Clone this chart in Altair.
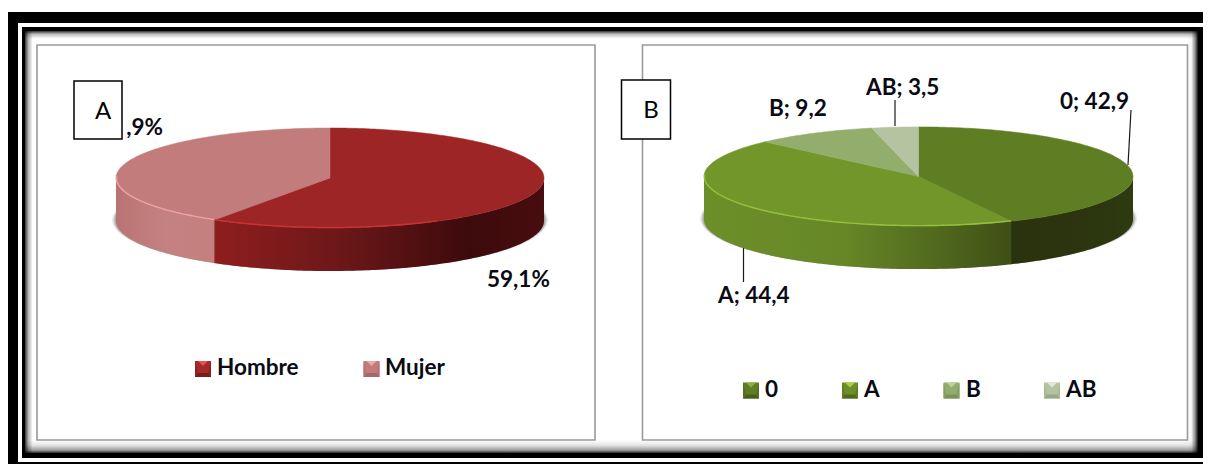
import math
import altair as alt
import pandas as pd

# ---- data ----
sex_names = ["Hombre", "Mujer"]
sex_values = [59.1, 40.9]
sex_labels = ["59,1%", "40,9%"]
blood_names = ["0", "A", "B", "AB"]
blood_values = [42.9, 44.4, 9.2, 3.5]
blood_labels = ["0; 42,9", "A; 44,4", "B; 9,2", "AB; 3,5"]

sex_top = ["#9e2525", "#c27c7c"]
blood_top = ["#5f7e24", "#73962b", "#92ad6c", "#b4c4a0"]

W, H = 1195, 456
X0, Y0 = 8, 8
sx = alt.Scale(domain=[X0, X0 + W], nice=False, zero=False)
sy = alt.Scale(domain=[Y0 + H, Y0], nice=False, zero=False)


def grad(stops, horizontal=True):
    return alt.LinearGradient(
        gradient="linear",
        stops=[alt.GradientStop(color=c, offset=o) for o, c in stops],
        x1=0, x2=1 if horizontal else 0, y1=0, y2=0 if horizontal else 1,
    )


def rect(x0, y0, x1, y1, fill="#ffffff", stroke=None, sw=1.0):
    kw = dict(fill=fill, strokeWidth=sw, opacity=1)
    if stroke:
        kw["stroke"] = stroke
    return alt.Chart(pd.DataFrame({"a": [x0], "b": [y0], "c": [x1], "d": [y1]})).mark_rect(**kw).encode(
        x=alt.X("a:Q", scale=sx, axis=None),
        x2="c:Q",
        y=alt.Y("b:Q", scale=sy, axis=None),
        y2="d:Q",
    )


def poly(points, fill, stroke=None, sw=0.6, opacity=1.0, close=True):
    pts = list(points) + ([points[0]] if close else [])
    df = pd.DataFrame({"x": [p[0] for p in pts], "y": [p[1] for p in pts], "i": range(len(pts))})
    kw = dict(strokeWidth=sw, opacity=opacity, interpolate="linear", strokeCap="butt")
    kw["stroke"] = stroke if stroke else (fill if isinstance(fill, str) else "transparent")
    if fill is not None:
        kw["fill"] = fill
    return alt.Chart(df).mark_line(**kw).encode(
        x=alt.X("x:Q", scale=sx, axis=None, sort=None),
        y=alt.Y("y:Q", scale=sy, axis=None, sort=None),
        order="i:Q",
    )


def path(points, color, sw=1.2, opacity=1.0):
    df = pd.DataFrame({"x": [p[0] for p in points], "y": [p[1] for p in points], "i": range(len(points))})
    return alt.Chart(df).mark_line(stroke=color, strokeWidth=sw, opacity=opacity, interpolate="linear").encode(
        x=alt.X("x:Q", scale=sx, axis=None),
        y=alt.Y("y:Q", scale=sy, axis=None),
        order="i:Q",
    )


def text(s, x, y, size=22.5, weight="bold", align="left", color="#0a0a14"):
    df = pd.DataFrame({"x": [x], "y": [y], "t": [s]})
    return alt.Chart(df).mark_text(font="Lato", fontSize=size, fontWeight=weight, align=align,
                                   baseline="middle", color=color).encode(
        x=alt.X("x:Q", scale=sx, axis=None),
        y=alt.Y("y:Q", scale=sy, axis=None),
        text="t:N",
    )


def arc(cx, cy, rx, ry, a0, a1):
    n = max(2, int(abs(a1 - a0)) + 1)
    out = []
    for k in range(n + 1):
        t = math.radians(a0 + (a1 - a0) * k / n)
        out.append((cx + rx * math.sin(t), cy - ry * math.cos(t)))
    return out


def pie(values, tops, sides, rims, cx, cy, rx, ry, depth):
    layers = []
    for d, op in ((4, 0.15), (2.5, 0.3), (1.5, 0.4)):
        layers.append(poly(arc(cx, cy + depth - 1, rx + d, ry + 1, 0, 360), "#808080", sw=0, opacity=op))
    cum = 0.0
    bounds = []
    for v in values:
        a0 = cum / sum(values) * 360
        cum += v
        bounds.append((a0, cum / sum(values) * 360))
    for (a0, a1), g in zip(bounds, sides):
        lo, hi = max(a0, 90), min(a1, 270)
        if hi > lo:
            up = arc(cx, cy, rx, ry, lo, hi)
            dn = [(x, y + depth) for x, y in reversed(up)]
            layers.append(poly(up + dn, g, sw=0))
    for (a0, a1), c in zip(bounds, tops):
        layers.append(poly([(cx, cy)] + arc(cx, cy, rx, ry, a0, a1), c, sw=0.5))
    for (a0, a1), r in zip(bounds, rims):
        if r is None:
            continue
        lo, hi = max(a0, r[1]), min(a1, r[2])
        if hi > lo:
            layers.append(path(arc(cx, cy, rx - 0.5, ry - 0.5, lo, hi), r[0], sw=1.4))
    return layers


def swatch(x, y, base, light, dark, mid):
    s = 16
    return [
        rect(x, y, x + s, y + s, base),
        poly([(x, y + s), (x + s, y + s), (x + s - 3, y + s - 4), (x + 3, y + s - 4)], dark, sw=0),
        poly([(x + 3, y), (x + s - 3, y), (x + s / 2, y + 5)], light, sw=0),
        poly([(x, y), (x + 3, y + s - 4), (x, y + s)], mid, sw=0),
        poly([(x + s, y), (x + s - 3, y + s - 4), (x + s, y + s)], mid, sw=0),
    ]


layers = []
# frame
layers.append(rect(X0, 12, X0 + W, Y0 + H, "#000000"))
layers.append(rect(18, 23, X0 + W, 462, "#ffffff"))
layers.append(rect(22, 27, 1203, 458, "#000000"))
layers.append(rect(25, 31, 1198, 453, "#ffffff"))
layers.append(rect(25, 31, 36, 453, grad([(0, "rgba(0,0,0,0.8)"), (0.3, "rgba(0,0,0,0.3)"), (0.7, "rgba(0,0,0,0)"), (1, "rgba(0,0,0,0)")])))
layers.append(rect(1188, 31, 1198, 453, grad([(0, "rgba(0,0,0,0)"), (0.35, "rgba(0,0,0,0.05)"), (0.75, "rgba(0,0,0,0.5)"), (1, "rgba(0,0,0,0.95)")])))
layers.append(rect(25, 31, 1198, 44, grad([(0, "rgba(0,0,0,0.8)"), (0.25, "rgba(0,0,0,0.25)"), (0.6, "rgba(0,0,0,0)"), (1, "rgba(0,0,0,0)")], False)))
layers.append(rect(25, 440, 1198, 453, grad([(0, "rgba(0,0,0,0)"), (0.4, "rgba(0,0,0,0.1)"), (0.8, "rgba(0,0,0,0.4)"), (1, "rgba(0,0,0,0.85)")], False)))
layers.append(rect(37, 45, 595, 440, "#ffffff", "#9a9a9a", 1.6))
layers.append(rect(642.5, 45, 1187.5, 440, "#ffffff", "#9a9a9a", 1.6))

# pie A
sex_sides = [
    grad([(0, "#8f1e1e"), (0.4, "#6a1718"), (0.77, "#3d0a0c"), (1, "#480d0e")]),
    grad([(0, "#b97373"), (0.5, "#c58181"), (1, "#c47f7f")]),
]
sex_rims = [("#c93232", 150, 270), ("#f0a2a2", 90, 272)]
layers += pie(sex_values, sex_top, sex_sides, sex_rims, 330, 178, 214, 50, 43)

# pie B
blood_sides = [
    grad([(0, "#2a330e"), (0.5, "#2b340e"), (1, "#2f3a10")]),
    grad([(0, "#6d8f29"), (0.45, "#678727"), (0.75, "#516a1e"), (1, "#3f4f16")]),
    "#000000", "#000000",
]
blood_rims = [None, ("#94c03c", 90, 272), None, None]
layers += pie(blood_values, blood_top, blood_sides, blood_rims, 918.5, 176.5, 214.5, 49.6, 43)

# leaders
layers.append(path([(1131, 110), (1128, 165)], "#1a1a1a", 1.2))
layers.append(path([(895, 100), (895, 126)], "#1a1a1a", 1.2))
layers.append(path([(743.5, 248), (743.5, 282)], "#1a1a1a", 1.2))

# labels
layers.append(text(sex_labels[0], 487, 280))
layers.append(text(sex_labels[1], 163, 128, align="right"))
layers.append(text(blood_labels[0], 1060, 102))
layers.append(text(blood_labels[1], 718, 296))
layers.append(text(blood_labels[2], 769, 109))
layers.append(text(blood_labels[3], 866, 88))

# letter boxes (the A box covers the start of the 40,9% label, as in the source)
layers.append(rect(122, 116, 126, 140, "#ffffff"))
layers.append(rect(74, 81, 122, 139, "#ffffff", "#000000", 1.5))
layers.append(text("A", 103, 112, size=24, weight="normal", align="center", color="#000000"))
layers.append(rect(621.5, 80, 670.5, 139, "#ffffff", "#000000", 1.5))
layers.append(text("B", 651, 111, size=24, weight="normal", align="center", color="#000000"))

# legends
sex_swatch = [("#a52a2a", "#e4544f", "#7a1c1c", "#8e2222"), ("#c27c7c", "#eeaaa8", "#a56666", "#b57070")]
for name, x, tx, sw_c in zip(sex_names, [195, 363.5], [217, 385], sex_swatch):
    layers += swatch(x, 361, *sw_c)
    layers.append(text(name, tx, 368))
blood_swatch = [("#5f7e24", "#8fb040", "#46601a", "#557020"), ("#6c8f28", "#a8d244", "#4f6a1c", "#5f7e24"),
                ("#92ad6c", "#bcd496", "#7a9456", "#86a062"), ("#b4c4a0", "#e0ead0", "#9aa888", "#a8b894")]
for name, x, tx, sw_c in zip(blood_names, [743, 842, 943.5, 1044], [765, 864, 966, 1066], blood_swatch):
    layers += swatch(x, 382.5, *sw_c)
    layers.append(text(name, tx, 390))

chart = alt.layer(*layers).properties(
    width=W, height=H, padding=0, background="#ffffff", autosize=alt.AutoSizeParams(type="none"),
).configure_view(stroke=None)

chart.save("out.html", embed_options={"renderer": "svg", "actions": False})
